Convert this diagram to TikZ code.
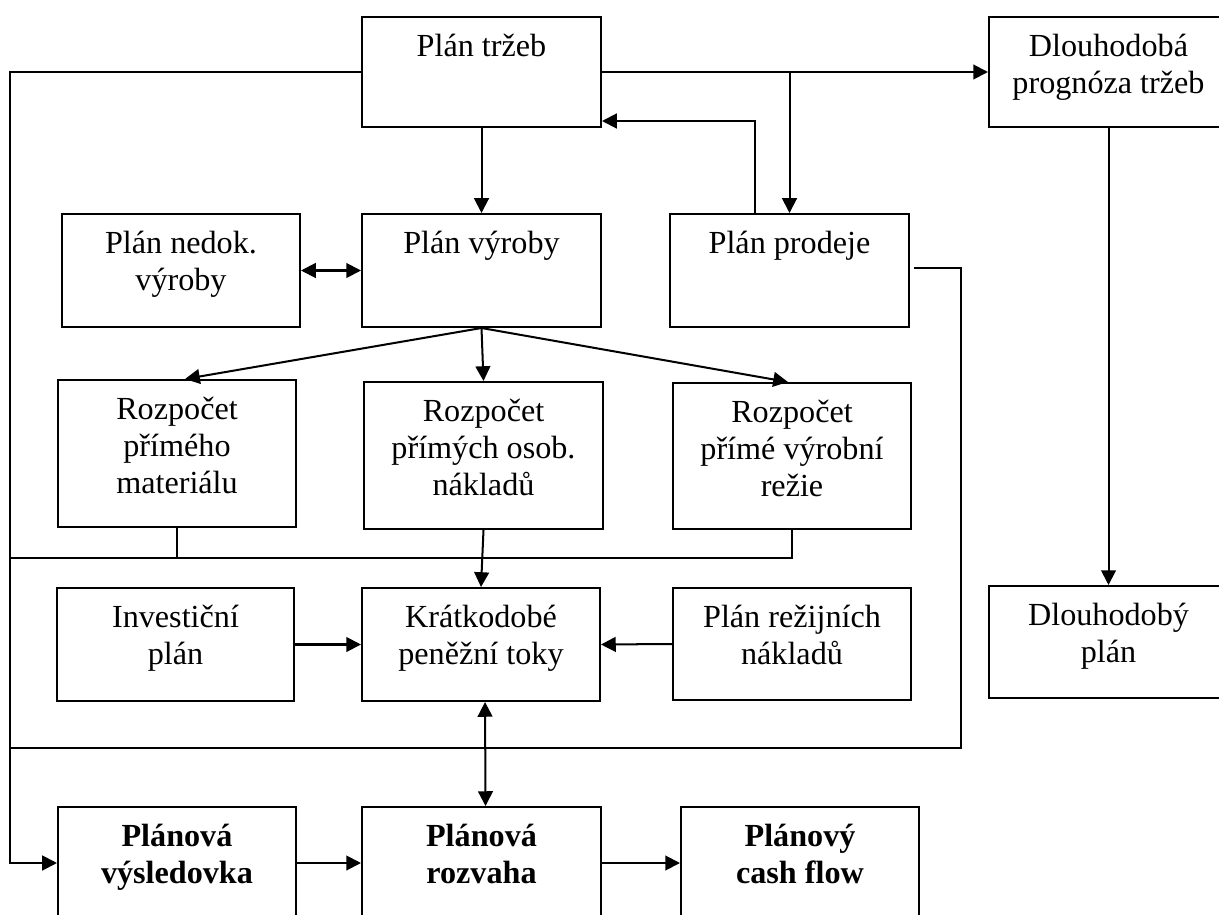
\documentclass[tikz,border=0pt]{standalone}
\usepackage{fontspec}
\setmainfont{Liberation Serif}
\usetikzlibrary{arrows.meta,calc}
\tikzset{
  ln/.style={line width=0.75pt},
  boxstyle/.style={draw, line width=0.75pt, inner sep=0pt},
  lblstyle/.style={anchor=north, yshift=-5.9pt, inner sep=0pt, align=center,
    font=\fontsize{12}{13.8}\selectfont},
  boldlbl/.style={font=\fontsize{12}{13.8}\selectfont\bfseries},
  arr/.style={ln, -{Triangle[length=5.5pt,width=5.5pt]}},
  dbl/.style={ln, {Triangle[length=5.5pt,width=5.5pt]}-{Triangle[length=5.5pt,width=5.5pt]}}
}
% name, x1, y1, x2, y2, text, extra label style
\newcommand{\plbox}[7]{%
  \node[boxstyle, minimum width={(#4-#2)*0.373pt}, minimum height={(#5-#3)*0.373pt},
        label={[lblstyle,#7]north:{\rule{0pt}{9pt}#6}}] (#1) at ({(#2+#4)/2},{(#3+#5)/2}) {};}
\begin{document}
\begin{tikzpicture}[x=0.373pt, y=-0.373pt]
\useasboundingbox (0,0) rectangle (1219,915);
\clip (0,0) rectangle (1219,915);

\plbox{trzby}{362}{17}{601}{127}{Plán tržeb}{}
\plbox{dlprog}{989}{17}{1228}{127}{Dlouhodobá\\prognóza tržeb}{}
\plbox{nedok}{62}{214}{300}{327}{Plán nedok.\\výroby}{}
\plbox{vyroba}{362}{214}{601}{327}{Plán výroby}{}
\plbox{prodej}{670}{214}{909}{327}{Plán prodeje}{}
\plbox{mat}{58}{380}{296}{527}{Rozpočet\\přímého\\materiálu}{}
\plbox{osob}{364}{382}{603}{529}{Rozpočet\\přímých osob.\\nákladů}{}
\plbox{rezie}{673}{383}{911}{529}{Rozpočet\\přímé výrobní\\režie}{}
\plbox{invest}{57}{588}{294}{701}{Investiční\\plán}{}
\plbox{kratk}{362}{588}{600}{701}{Krátkodobé\\peněžní toky}{}
\plbox{rezij}{673}{588}{911}{700}{Plán režijních\\nákladů}{}
\plbox{dlplan}{989}{586}{1228}{698}{Dlouhodobý\\plán}{}
\plbox{vysl}{58}{807}{296}{919}{Plánová\\výsledovka}{boldlbl}
\plbox{rozv}{362}{807}{601}{919}{Plánová\\rozvaha}{boldlbl}
\plbox{cash}{681}{807}{919}{919}{Plánový\\cash flow}{boldlbl}

\coordinate (lft) at (10,500);
\coordinate (fbx) at (755,121);
\coordinate (rl) at (961,268);
\coordinate (b1) at (500,558);
\coordinate (b2) at (500,748);

% left bus
\draw[arr] (trzby.west) -| (lft) |- (vysl.west);
% top row
\draw[arr] (trzby.east) -- (dlprog.west);
\draw[arr] (trzby.east -| prodej.north) -- (prodej.north);
\draw[arr] (prodej.north -| fbx) |- (trzby.east |- fbx);
\draw[arr] (trzby.south) -- (vyroba.north);
\draw[dbl] (nedok.east) -- (vyroba.west);
% right loop
\draw[ln] ([xshift=1.5pt]prodej.east |- rl) -- (rl) -- (rl |- b2) -- (lft |- b2);
% budgets
\draw[arr] (vyroba.south) -- ([xshift=3pt]mat.north);
\draw[arr] (vyroba.south) -- (osob.north);
\draw[arr] (vyroba.south) -- ([xshift=-1.5pt]rezie.north);
\draw[ln] (mat.south) -- (mat.south |- b1);
\draw[ln] (lft |- b1) -| (rezie.south);
\draw[arr] (osob.south) -- (kratk.north);
% cash flows
\draw[arr] (invest.east) -- (kratk.west);
\draw[arr] (rezij.west) -- (kratk.east);
\draw[dbl] ([xshift=1.5pt]kratk.south) -- ([xshift=1.5pt]rozv.north);
\draw[arr] (dlprog.south) -- (dlplan.north);
% bottom row
\draw[arr] (vysl.east) -- (rozv.west);
\draw[arr] (rozv.east) -- (cash.west);
\end{tikzpicture}
\end{document}
